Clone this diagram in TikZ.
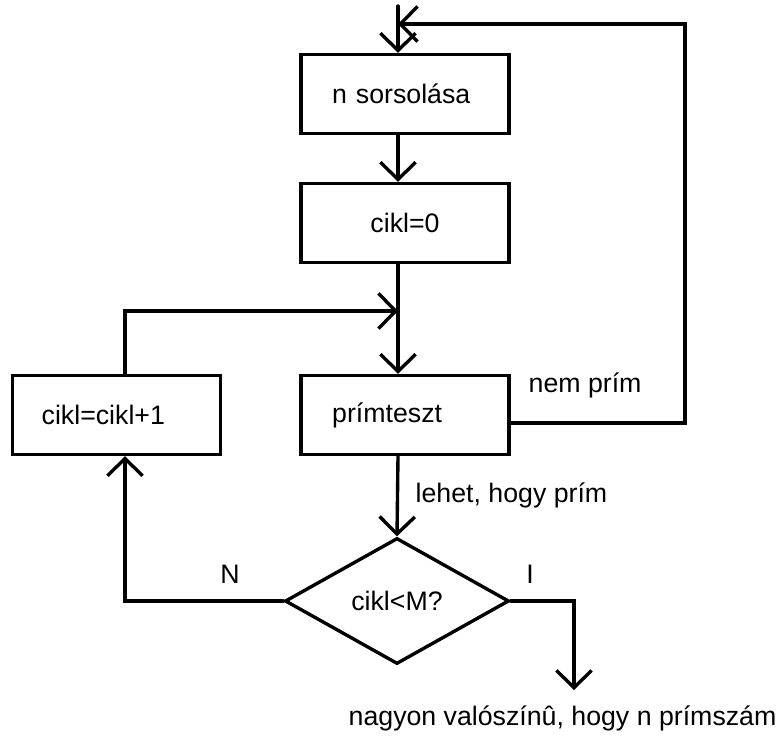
\documentclass[tikz,border=0pt]{standalone}
\usepackage{fontspec}
\setmainfont{Liberation Sans}
\usetikzlibrary{arrows.meta,shapes.geometric}

\tikzset{
  box/.style={draw,rectangle,minimum height=1.975cm,text width=3.64cm,
    inner xsep=0.78cm,align=left},
  decision/.style={draw,diamond,minimum width=5.6cm,minimum height=3.15cm,
    inner sep=0pt},
  lbl/.style={inner sep=0pt}
}

\begin{document}
\begin{tikzpicture}[x=0.025cm,y=-0.025cm,line width=2.4pt,line cap=round,line join=miter,
  >={Straight Barb[length=0.43cm,width=0.88cm]},
  font=\fontsize{19}{23}\selectfont]
  \useasboundingbox (0,0) rectangle (778,738);

  % boxes
  \node[box] (nsors) at (405,94) {\raisebox{-0.08cm}{n sorsolása}};
  \node[box,align=center] (cikl0) at (405,223) {\raisebox{-0.08cm}{cikl=0}};
  \node[box] (prim) at (405,415) {\raisebox{-0.08cm}{prímteszt}};
  \node[box,inner xsep=0.73cm,text width=3.74cm] (inc) at (116.5,415) {\raisebox{-0.08cm}{cikl=cikl+1}};
  \node[decision] (test) at (397,601) {\raisebox{-0.25cm}{cikl<M?}};

  % turning points
  \coordinate (entry) at (398,6);
  \coordinate (merge) at (398,24);
  \coordinate (rturn) at (685,24);
  \coordinate (join) at (398,311);
  \coordinate (loop) at (125,311);
  \coordinate (out) at (574,690);

  % connectors
  \draw[->] (entry) -- (nsors.north -| entry);
  \draw[->] (nsors.south -| entry) -- (cikl0.north -| entry);
  \draw[->] (cikl0.south -| entry) -- (prim.north -| entry);
  \draw[->] (inc.north -| loop) -- (loop) -- (join);
  \draw[->] (prim.south -| entry) -- (test.north);
  \draw[->] ([yshift=-0.2cm]prim.east) -| (rturn) -- (merge);
  \draw[->] (test.west) -| (inc.south -| loop);
  \draw[->] (test.east) -| (out);

  % labels
  \node[lbl,anchor=west] (nemprim) at (527,385) {nem prím};
  \node[lbl,anchor=west] (lehet) at (414,495) {lehet, hogy prím};
  \node[lbl] (nlab) at (230,574) {N};
  \node[lbl] (ilab) at (530,574) {I};
  \node[lbl,anchor=west] (result) at (347,718) {nagyon valószínû, hogy n prímszám};
\end{tikzpicture}
\end{document}
